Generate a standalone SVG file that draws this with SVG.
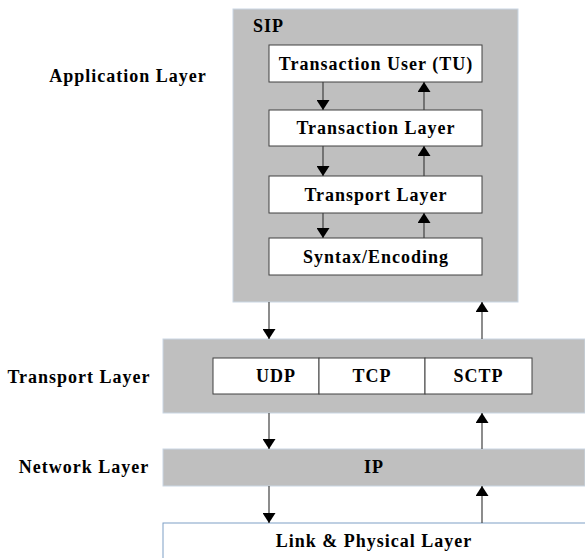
<svg xmlns="http://www.w3.org/2000/svg" width="585" height="558" viewBox="0 0 585 558">
<style>
text{font-family:"Liberation Serif","Times New Roman",serif;font-weight:bold;font-size:18px;letter-spacing:1px;fill:#000;}
.mid{text-anchor:middle;}
.band{fill:#bfbfbf;stroke:#c9d6e3;stroke-width:1;}
.box{fill:#fff;stroke:#404040;stroke-width:1;}
.conn line{stroke:#404040;stroke-width:1.2;}
</style>
<defs>
<marker id="ah" viewBox="0 0 10 13" refX="10" refY="6.5" markerWidth="10" markerHeight="13" markerUnits="userSpaceOnUse" orient="auto">
<path d="M0,0 L10,6.5 L0,13 Z" fill="#000"/>
</marker>
</defs>
<g id="labels">
<text class="mid" x="128" y="82">Application Layer</text>
<text class="mid" x="79" y="383">Transport Layer</text>
<text class="mid" x="84" y="473">Network Layer</text>
</g>
<g id="sip">
<rect class="band" x="233" y="9" width="285" height="293"/>
<text x="253" y="32">SIP</text>
</g>
<g id="tu"><rect class="box" x="269" y="45" width="213" height="37"/><text class="mid" x="376" y="70">Transaction User (TU)</text></g>
<g id="transaction"><rect class="box" x="269" y="110" width="213" height="36"/><text class="mid" x="376" y="134">Transaction Layer</text></g>
<g id="transport-sip"><rect class="box" x="269" y="176" width="213" height="37"/><text class="mid" x="376" y="201">Transport Layer</text></g>
<g id="syntax"><rect class="box" x="269" y="238" width="213" height="37"/><text class="mid" x="376" y="263">Syntax/Encoding</text></g>
<g id="transport-band"><rect class="band" x="163" y="339" width="422" height="74"/></g>
<g id="udp"><rect class="box" x="213" y="358" width="106" height="36"/><text class="mid" x="276" y="382">UDP</text></g>
<g id="tcp"><rect class="box" x="319" y="358" width="106" height="36"/><text class="mid" x="372" y="382">TCP</text></g>
<g id="sctp"><rect class="box" x="425" y="358" width="107" height="36"/><text class="mid" x="478.5" y="382">SCTP</text></g>
<g id="ip"><rect class="band" x="163" y="449" width="422" height="37"/><text class="mid" x="374" y="473">IP</text></g>
<g id="link"><rect x="163" y="523" width="425" height="40" fill="#fff" stroke="#7f9fc6" stroke-width="1"/><text class="mid" x="374" y="547">Link &amp; Physical Layer</text></g>
<g class="conn" id="connectors">
<line x1="323" y1="82" x2="323" y2="110" marker-end="url(#ah)"/>
<line x1="424" y1="110" x2="424" y2="82" marker-end="url(#ah)"/>
<line x1="323" y1="146" x2="323" y2="176" marker-end="url(#ah)"/>
<line x1="424" y1="176" x2="424" y2="146" marker-end="url(#ah)"/>
<line x1="323" y1="213" x2="323" y2="238" marker-end="url(#ah)"/>
<line x1="424" y1="238" x2="424" y2="213" marker-end="url(#ah)"/>
<line x1="269" y1="302" x2="269" y2="339" marker-end="url(#ah)"/>
<line x1="482" y1="339" x2="482" y2="302" marker-end="url(#ah)"/>
<line x1="269" y1="413" x2="269" y2="449" marker-end="url(#ah)"/>
<line x1="482" y1="449" x2="482" y2="413" marker-end="url(#ah)"/>
<line x1="269" y1="486" x2="269" y2="523" marker-end="url(#ah)"/>
<line x1="482" y1="523" x2="482" y2="486" marker-end="url(#ah)"/>
</g>
</svg>
